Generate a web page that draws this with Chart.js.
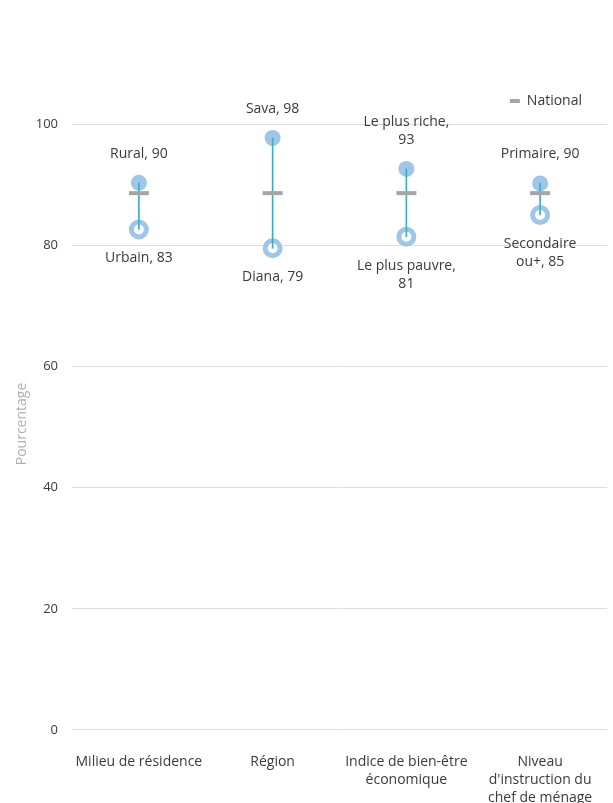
<!DOCTYPE html>
<html>
<head>
<meta charset="utf-8">
<script src="https://cdn.jsdelivr.net/npm/chart.js@4"></script>
<style>
html,body{margin:0;padding:0;background:#fff;overflow:hidden;width:613px;height:803px;}
#wrap{width:613px;height:803px;position:relative;overflow:hidden;}
canvas{display:block;}
</style>
</head>
<body>
<div id="wrap"><canvas id="c" width="613" height="822"></canvas></div>
<script>
const categories = [["Milieu de résidence"], ["Région"], ["Indice de bien-être", "économique"], ["Niveau", "d'instruction du", "chef de ménage"]];
const highValues = [90.3, 97.7, 92.6, 90.2];
const lowValues = [82.6, 79.5, 81.4, 85.0];
const nationalValues = [88.6, 88.6, 88.6, 88.6];
const highLabels = [["Rural, 90"], ["Sava, 98"], ["Le plus riche,", "93"], ["Primaire, 90"]];
const lowLabels = [["Urbain, 83"], ["Diana, 79"], ["Le plus pauvre,", "81"], ["Secondaire", "ou+, 85"]];
const yTicks = [0, 20, 40, 60, 80, 100];

const FONT = "'Open Sans', 'Liberation Sans', Arial, sans-serif";
const DOT = '#9fc5e8';
const LINE = '#29b6c9';
const NAT = '#a5a5a5';
const TXT = '#3a3a3a';

const labelPlugin = {
  id: 'pointLabels',
  beforeDraw(chart) {
    const lg = chart.legend;
    if (lg) { lg.right = lg.right - 15; }
  },
  afterDatasetsDraw(chart) {
    const ctx = chart.ctx;
    ctx.save();
    ctx.font = '14px ' + FONT;
    ctx.fillStyle = TXT;
    ctx.textAlign = 'center';
    ctx.textBaseline = 'middle';
    const lh = 18;
    const hiMeta = chart.getDatasetMeta(1);
    const loMeta = chart.getDatasetMeta(2);
    hiMeta.data.forEach((p, i) => {
      const lines = highLabels[i];
      const baseY = p.y - 29;
      lines.forEach((t, j) => {
        ctx.fillText(t, p.x, baseY - (lines.length - 1 - j) * lh);
      });
    });
    loMeta.data.forEach((p, i) => {
      const lines = lowLabels[i];
      const baseY = p.y + 29;
      lines.forEach((t, j) => {
        ctx.fillText(t, p.x, baseY + j * lh);
      });
    });
    ctx.restore();
  }
};

new Chart(document.getElementById('c'), {
  type: 'bar',
  data: {
    labels: categories,
    datasets: [
      {
        type: 'line',
        label: 'National',
        data: nationalValues,
        showLine: false,
        pointStyle: 'line',
        pointRadius: 10,
        pointHoverRadius: 10,
        borderColor: NAT,
        backgroundColor: NAT,
        pointBorderWidth: 4,
        borderWidth: 3,
        order: 0
      },
      {
        type: 'line',
        label: 'Haut',
        data: highValues,
        showLine: false,
        pointStyle: 'circle',
        pointRadius: 8,
        pointHoverRadius: 8,
        pointBackgroundColor: DOT,
        pointBorderColor: DOT,
        pointBorderWidth: 0,
        order: 2
      },
      {
        type: 'line',
        label: 'Bas',
        data: lowValues,
        showLine: false,
        pointStyle: 'circle',
        pointRadius: 7.5,
        pointHoverRadius: 7.5,
        pointBackgroundColor: '#ffffff',
        pointBorderColor: DOT,
        pointBorderWidth: 5,
        order: 2
      },
      {
        type: 'bar',
        label: 'Écart',
        data: lowValues.map((v, i) => [v, highValues[i]]),
        backgroundColor: LINE,
        borderWidth: 0,
        barThickness: 1,
        order: 1
      }
    ]
  },
  options: {
    responsive: false,
    animation: false,
    layout: { autoPadding: false, padding: { top: 84, right: 6, left: 11, bottom: 0 } },
    plugins: {
      legend: {
        position: 'top',
        align: 'end',
        labels: {
          filter: (item) => item.text === 'National',
          usePointStyle: true,
          pointStyle: 'line',
          pointStyleWidth: 10,
          boxWidth: 10,
          boxHeight: 10,
          font: { family: FONT, size: 14 },
          color: TXT,
          padding: 10
        }
      },
      tooltip: { enabled: false }
    },
    scales: {
      x: {
        offset: true,
        grid: { display: false },
        border: { display: false },
        afterFit: (axis) => { axis.paddingLeft = 0; axis.paddingRight = 0; },
        ticks: {
          color: TXT,
          font: { family: FONT, size: 14, lineHeight: 1.286 },
          padding: 15,
          maxRotation: 0,
          autoSkip: false
        }
      },
      y: {
        min: 0,
        max: 101,
        afterBuildTicks: (axis) => { axis.ticks = yTicks.map(v => ({ value: v })); },
        afterFit: (axis) => { axis.width = 61; },
        grid: { color: '#dddddd', lineWidth: 1, drawTicks: false },
        border: { display: false },
        ticks: {
          color: TXT,
          font: { family: FONT, size: 13 },
          padding: 14
        },
        title: {
          display: true,
          text: 'Pourcentage',
          color: '#b0b0b0',
          font: { family: FONT, size: 14 },
          padding: { top: 3, bottom: 6 }
        }
      }
    }
  },
  plugins: [labelPlugin]
});
</script>
</body>
</html>
